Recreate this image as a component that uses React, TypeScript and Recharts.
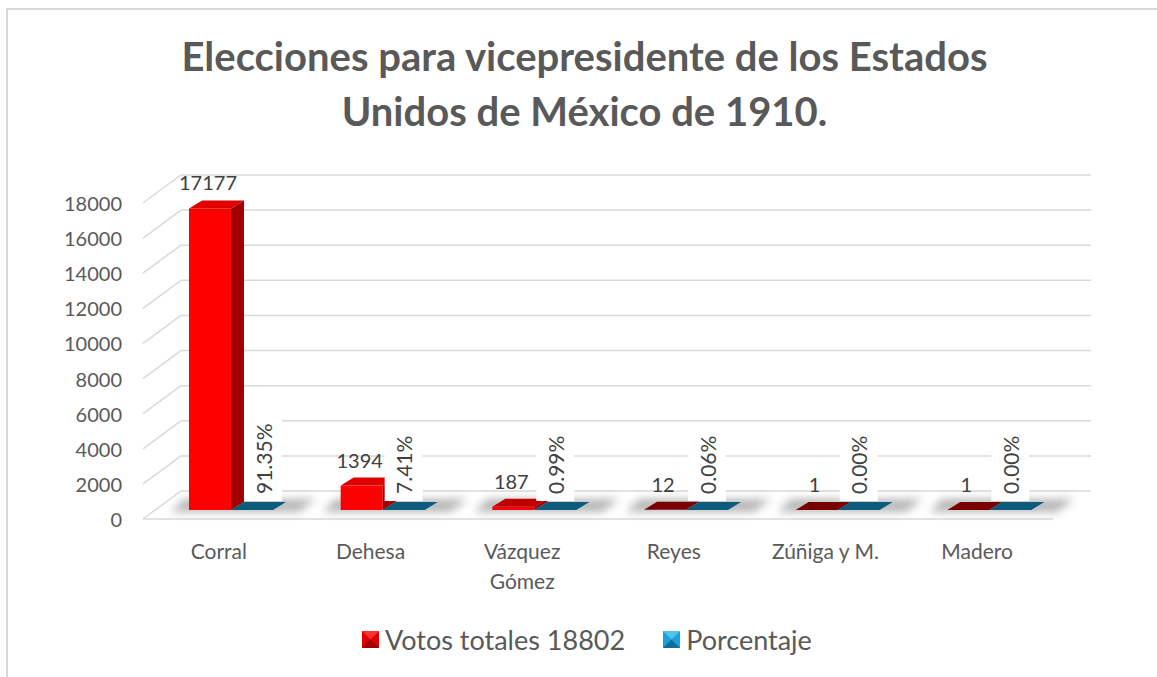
import { BarChart, Bar, XAxis, YAxis, CartesianGrid, ReferenceLine, LabelList } from 'recharts';

const categories = ['Corral', 'Dehesa', 'Vázquez Gómez', 'Reyes', 'Zúñiga y M.', 'Madero'];
const votos = [17177, 1394, 187, 12, 1, 1];
const porcentaje = [0.9135, 0.0741, 0.0099, 0.0006, 0.0, 0.0];
const yTicks = [0, 2000, 4000, 6000, 8000, 10000, 12000, 14000, 16000, 18000];
const seriesNames = ['Votos totales 18802', 'Porcentaje'];
const titleLines = ['Elecciones para vicepresidente de los Estados', 'Unidos de México de 1910.'];

const data = categories.map((name, i) => ({ name, votos: votos[i], porcentaje: porcentaje[i] }));

const FONT = 'Lato, "Open Sans", sans-serif';
const GRID = '#D9D9D9';
// fake 3d: back wall offset, bar offset inside floor, bar thickness
const WALL_X = 38, WALL_Y = 28;
const BAR_X = 12, BAR_Y = 9;
const TOP_X = 13, TOP_Y = 8;
const PLOT_H = 316;

function GridLine(p: any) {
  const { x1, x2, y1 } = p;
  return (
    <g key={p.key}>
      <line x1={x1} y1={y1} x2={x1 + WALL_X} y2={y1 - WALL_Y} stroke={GRID} strokeWidth={1.5} />
      <line x1={x1 + WALL_X} y1={y1 - WALL_Y} x2={x2 + WALL_X} y2={y1 - WALL_Y} stroke={GRID} strokeWidth={1.5} />
    </g>
  );
}

function YTick(p: any) {
  return (
    <text x={p.x} y={p.y} textAnchor="end" dominantBaseline="central" fontSize={20} fill="#595959" fontFamily={FONT}>
      {p.payload.value}
    </text>
  );
}

function XTick(p: any) {
  const words = String(p.payload.value);
  const lines = words === 'Vázquez Gómez' ? ['Vázquez', 'Gómez'] : [words];
  return (
    <text x={p.x} y={p.y + 23} textAnchor="middle" dominantBaseline="central" fontSize={21} fill="#595959" fontFamily={FONT}>
      {lines.map((l, i) => (
        <tspan key={i} x={p.x} dy={i === 0 ? 0 : 30}>{l}</tspan>
      ))}
    </text>
  );
}

function RedBar(props: any) {
  const { x, y, width, height, index } = props;
  const h = Math.max(height || 0, 0);
  const fx = x + BAR_X;
  const fy = y - BAR_Y;
  const bottom = fy + h;
  const topCol = h > 10 ? '#E00000' : h > 2 ? '#C00000' : '#7A0000';
  const fid = `shd-${index}`;
  const sx0 = fx - 18, sx1 = fx + width * 2 + 26;
  return (
    <g>
      <defs>
        <filter id={fid} x="-30%" y="-200%" width="160%" height="500%">
          <feGaussianBlur stdDeviation="4" />
        </filter>
      </defs>
      <polygon
        points={`${sx0},${bottom + 2} ${sx1},${bottom + 2} ${sx1 + TOP_X + 4},${bottom - TOP_Y - 3} ${sx0 + TOP_X},${bottom - TOP_Y - 3}`}
        fill="#707070" opacity={0.5} filter={`url(#${fid})`}
      />
      {h > 0.5 && <rect x={fx} y={fy} width={width} height={h} fill="#FF0000" />}
      <polygon points={`${fx + width},${fy} ${fx + width + TOP_X},${fy - TOP_Y} ${fx + width + TOP_X},${bottom - TOP_Y} ${fx + width},${bottom}`} fill="#A00000" />
      <polygon points={`${fx},${fy} ${fx + TOP_X},${fy - TOP_Y} ${fx + width + TOP_X},${fy - TOP_Y} ${fx + width},${fy}`} fill={topCol} />
    </g>
  );
}

function BlueBar(props: any) {
  const { x, y, width, height } = props;
  const h = Math.max(height || 0, 0);
  const fx = x + BAR_X;
  const fy = y - BAR_Y;
  return (
    <g>
      {h > 0.5 && <rect x={fx} y={fy} width={width} height={h} fill="#0E6E96" />}
      <polygon points={`${fx},${fy} ${fx + TOP_X},${fy - TOP_Y} ${fx + width + TOP_X},${fy - TOP_Y} ${fx + width},${fy}`} fill="#0B5B7C" />
    </g>
  );
}

function VotosLabel(props: any) {
  const vb = props.viewBox ?? props;
  const x = vb.x ?? props.x, y = vb.y ?? props.y, width = vb.width ?? props.width;
  return (
    <text x={x + BAR_X + width / 2 - 2} y={y - BAR_Y - TOP_Y - 18} textAnchor="middle" dominantBaseline="central" fontSize={20} fill="#404040" fontFamily={FONT}>
      {props.value}
    </text>
  );
}

const charW = (c: string) => (c === '.' ? 5.5 : c === '%' ? 17.5 : 12.2);

function PctLabel(props: any) {
  const vb = props.viewBox ?? props;
  const x = vb.x ?? props.x, y = vb.y ?? props.y, width = vb.width ?? props.width, height = vb.height ?? props.height ?? 0;
  const idx = props.index ?? 0;
  const txt = `${(Number(props.value) * 100).toFixed(2)}%`;
  const tw = txt.split('').reduce((s, c) => s + charW(c), 0);
  const face = y + height - BAR_Y - TOP_Y;
  const textStart = face - 8;
  const boxTop = textStart - tw - 6;
  let cx = x + BAR_X + width / 2;
  // Excel nudges the label off a tall neighbouring red column
  const redH = (votos[idx] / yTicks[yTicks.length - 1]) * PLOT_H;
  if (redH > face - boxTop + 40) cx = x + BAR_X + TOP_X + 19;
  return (
    <g>
      <rect x={cx - 19} y={boxTop} width={38} height={face - 1 - boxTop} fill="#FFFFFF" />
      <text x={cx} y={textStart} transform={`rotate(-90, ${cx}, ${textStart})`} textAnchor="start" dominantBaseline="central" fontSize={21} fill="#404040" fontFamily={FONT}>
        {txt}
      </text>
    </g>
  );
}

function LegendIcon({ c1, c2, c3 }: { c1: string; c2: string; c3: string }) {
  return (
    <svg width={17} height={17} style={{ marginRight: 6 }}>
      <rect x={0} y={0} width={17} height={17} fill={c1} />
      <polygon points="0,0 17,0 8.5,8.5" fill={c2} />
      <polygon points="0,17 17,17 8.5,8.5" fill={c3} />
    </svg>
  );
}

export default function App() {
  return (
    <div style={{ position: 'absolute', left: 0, top: 0, width: 1157, height: 677, overflow: 'hidden', background: '#fff', fontFamily: FONT }}>
      <div style={{ position: 'absolute', left: 6, top: 8, width: 1200, height: 720, border: '2px solid #D9D9D9' }} />
      <div style={{ position: 'absolute', left: 6, top: 29, width: 1157, textAlign: 'center', fontSize: 40, fontWeight: 700, lineHeight: '55px', color: '#595959' }}>
        {titleLines.map((t) => (
          <div key={t}>{t}</div>
        ))}
      </div>
      <div style={{ position: 'absolute', left: 0, top: 0 }}>
        <BarChart width={1157} height={677} data={data} margin={{ top: 203, right: 104, bottom: 128, left: 0 }} barGap={0} barSize={42}>
          <CartesianGrid horizontal={GridLine} vertical={false} />
          <ReferenceLine y={0} stroke={GRID} strokeWidth={1.5} />
          <XAxis dataKey="name" axisLine={false} tickLine={false} height={30} tick={XTick} interval={0} />
          <YAxis width={143} domain={[0, 18000]} ticks={yTicks} axisLine={false} tickLine={false} tickMargin={15} tick={YTick} />
          <Bar dataKey="votos" name={seriesNames[0]} shape={RedBar} isAnimationActive={false}>
            <LabelList dataKey="votos" content={VotosLabel} />
          </Bar>
          <Bar dataKey="porcentaje" name={seriesNames[1]} shape={BlueBar} isAnimationActive={false}>
            <LabelList dataKey="porcentaje" content={PctLabel} />
          </Bar>
        </BarChart>
      </div>
      <div style={{ position: 'absolute', left: 362, top: 620, height: 38, display: 'flex', alignItems: 'center', fontSize: 27, color: '#595959' }}>
        <LegendIcon c1="#E00000" c2="#FF3030" c3="#A00000" />
        <span>{seriesNames[0]}</span>
        <span style={{ width: 38 }} />
        <LegendIcon c1="#1BA1D8" c2="#4FC3F0" c3="#0B6F9A" />
        <span>{seriesNames[1]}</span>
      </div>
    </div>
  );
}
